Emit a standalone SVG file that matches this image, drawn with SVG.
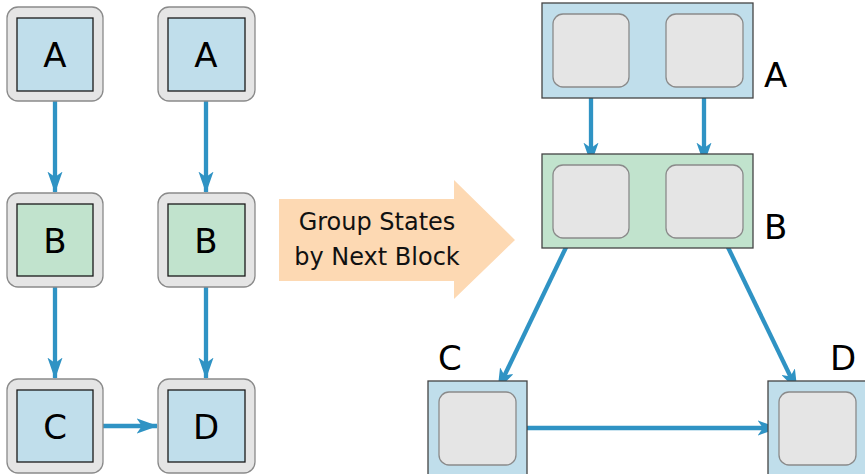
<svg xmlns="http://www.w3.org/2000/svg" width="865" height="474" viewBox="0 0 865 474">
<style>
.outer{fill:#e5e5e5;stroke:#8a8a8a;stroke-width:1.3}
.blue{fill:#c0deeb;stroke:#1a1a1a;stroke-width:1.3}
.green{fill:#c1e3cd;stroke:#1a1a1a;stroke-width:1.3}
.gblue{fill:#c0deeb;stroke:#444;stroke-width:1.3}
.ggreen{fill:#c1e3cd;stroke:#444;stroke-width:1.3}
.inner{fill:#e5e5e5;stroke:#8a8a8a;stroke-width:1.3}
.lbl{font-family:"DejaVu Sans","Liberation Sans",sans-serif;font-size:34px;fill:#000}
.conn{stroke:#2f93c4;stroke-width:4.3;fill:none;marker-end:url(#ah)}
.big{font-family:"DejaVu Sans","Liberation Sans",sans-serif;font-size:24px;fill:#111;text-anchor:middle}
</style>
<defs>
<marker id="ah" viewBox="0 0 10 7" refX="9.5" refY="3.5" markerWidth="5" markerHeight="3.5" orient="auto" markerUnits="strokeWidth">
<path d="M0,0 L10,3.5 L0,7 L2.5,3.5 Z" fill="#2f93c4"/>
</marker>
</defs>
<g id="connectors">
<line class="conn" x1="55" y1="101" x2="55" y2="192"/>
<line class="conn" x1="206" y1="101" x2="206" y2="192"/>
<line class="conn" x1="55" y1="287" x2="55" y2="378"/>
<line class="conn" x1="206" y1="287" x2="206" y2="378"/>
<line class="conn" x1="103" y1="426" x2="157" y2="426"/>
<line class="conn" x1="591" y1="87" x2="591" y2="163"/>
<line class="conn" x1="704" y1="87" x2="704" y2="163"/>
<line class="conn" x1="571" y1="237" x2="498" y2="389"/>
<line class="conn" x1="723" y1="237" x2="797" y2="390"/>
<line class="conn" x1="516" y1="428" x2="778" y2="428"/>
</g>
<g id="L-A1"><rect class="outer" x="7" y="7" width="96" height="94" rx="11"/><rect class="blue" x="17" y="18" width="76" height="73"/><text class="lbl" x="55" y="67" text-anchor="middle">A</text></g>
<g id="L-A2"><rect class="outer" x="158" y="7" width="97" height="94" rx="11"/><rect class="blue" x="168" y="18" width="77" height="73"/><text class="lbl" x="206" y="67" text-anchor="middle">A</text></g>
<g id="L-B1"><rect class="outer" x="7" y="193" width="96" height="94" rx="11"/><rect class="green" x="17" y="204" width="76" height="72"/><text class="lbl" x="55" y="253" text-anchor="middle">B</text></g>
<g id="L-B2"><rect class="outer" x="158" y="193" width="97" height="94" rx="11"/><rect class="green" x="168" y="204" width="77" height="72"/><text class="lbl" x="206" y="253" text-anchor="middle">B</text></g>
<g id="L-C"><rect class="outer" x="7" y="379" width="96" height="94" rx="11"/><rect class="blue" x="17" y="390" width="76" height="72"/><text class="lbl" x="55" y="439" text-anchor="middle">C</text></g>
<g id="L-D"><rect class="outer" x="158" y="379" width="97" height="94" rx="11"/><rect class="blue" x="168" y="390" width="77" height="72"/><text class="lbl" x="206" y="439" text-anchor="middle">D</text></g>
<g id="transform">
<path d="M279,199 H454 V180 L515,240 L454,299 V281 H279 Z" fill="#fdd9b3"/>
<text class="big" x="377" y="230">Group States</text>
<text class="big" x="377" y="265">by Next Block</text>
</g>
<g id="R-A"><rect class="gblue" x="542" y="3" width="211" height="95"/><rect class="inner" x="553" y="14" width="76" height="73" rx="10"/><rect class="inner" x="666" y="14" width="77" height="73" rx="10"/><text class="lbl" x="764" y="87">A</text></g>
<g id="R-B"><rect class="ggreen" x="542" y="154" width="211" height="94"/><rect class="inner" x="553" y="165" width="76" height="73" rx="10"/><rect class="inner" x="666" y="165" width="77" height="73" rx="10"/><text class="lbl" x="764" y="239">B</text></g>
<g id="R-C"><rect class="gblue" x="428" y="381" width="99" height="100"/><rect class="inner" x="439" y="392" width="77" height="73" rx="10"/><text class="lbl" x="438" y="370">C</text></g>
<g id="R-D"><rect class="gblue" x="768" y="381" width="105" height="100"/><rect class="inner" x="779" y="392" width="77" height="73" rx="10"/><text class="lbl" x="830" y="370">D</text></g>
</svg>
